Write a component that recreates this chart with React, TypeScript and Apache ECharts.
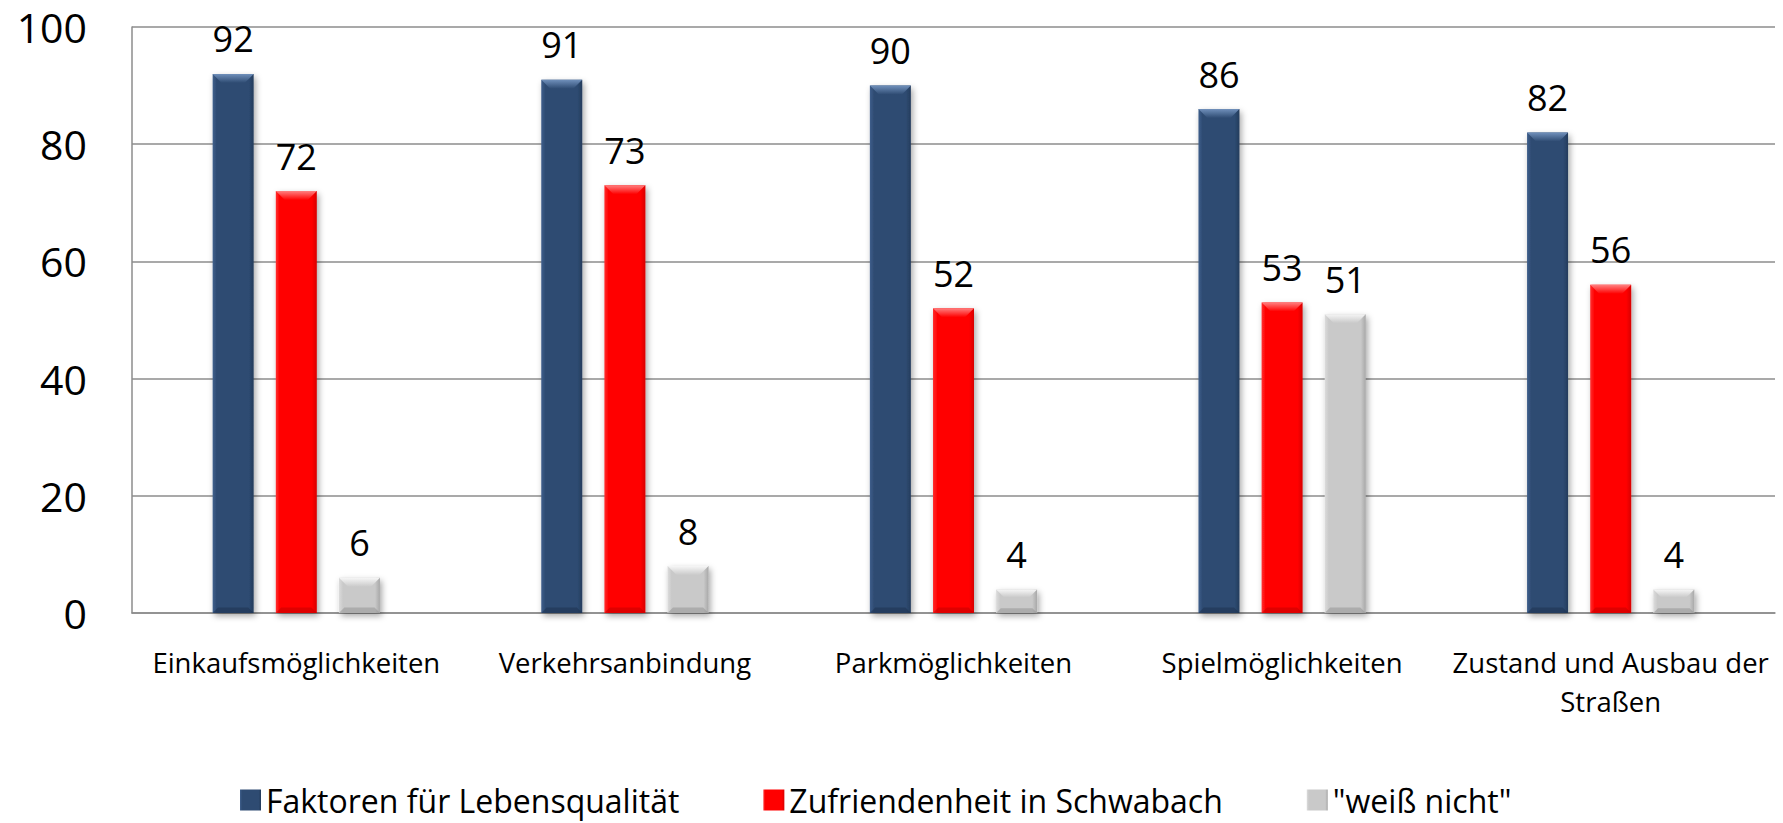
import React, { useEffect, useRef } from "react";
import * as echarts from "echarts";

const categories = [
  "Einkaufsmöglichkeiten",
  "Verkehrsanbindung",
  "Parkmöglichkeiten",
  "Spielmöglichkeiten",
  "Zustand und Ausbau der\nStraßen",
];
const seriesNames = [
  "Faktoren für Lebensqualität",
  "Zufriendenheit in Schwabach",
  '"weiß nicht"',
];
const faktoren = [92, 91, 90, 86, 82];
const zufriedenheit = [72, 73, 52, 53, 56];
const weissNicht = [6, 8, 4, 51, 4];
const allValues = [faktoren, zufriedenheit, weissNicht];

const baseColors = ["#2e4b72", "#ff0000", "#c9c9c9"];
const lightEdge = ["#3f5f8c", "#ff3030", "#dcdcdc"];
const darkEdge = ["#243c5c", "#d80000", "#a8a8a8"];
const topColors = ["#7090bb", "#ff8080", "#f6f6f6"];
const bottomColors = ["#1c304c", "#c00000", "#8f8f8f"];

const BAR_W = 41;
const BAR_GAP = 0.54;

export default function App() {
  const ref = useRef<HTMLDivElement>(null);
  useEffect(() => {
    if (!ref.current) return;
    const chart = echarts.init(ref.current, null, { renderer: "svg" });
    const barSeries = allValues.map((vals, s) => ({
      name: seriesNames[s],
      type: "bar",
      data: vals,
      barWidth: BAR_W,
      barGap: BAR_GAP * 100 + "%",
      itemStyle: {
        color: new echarts.graphic.LinearGradient(0, 0, 1, 0, [
          { offset: 0, color: lightEdge[s] },
          { offset: 0.1, color: baseColors[s] },
          { offset: 0.88, color: baseColors[s] },
          { offset: 1, color: darkEdge[s] },
        ]),
        shadowColor: "rgba(0,0,0,0.35)",
        shadowBlur: 6,
        shadowOffsetX: 2,
        shadowOffsetY: 3,
      },
      label: {
        show: true,
        position: "top",
        distance: 17,
        fontFamily: "Open Sans",
        fontSize: 36,
        color: "#000",
      },
      z: 2,
    }));
    const bevelData: number[][] = [];
    allValues.forEach((vals, s) =>
      vals.forEach((v, i) => bevelData.push([i, v, s]))
    );
    const option = {
      animation: false,
      backgroundColor: "#ffffff",
      grid: { left: 132, right: 8, top: 27, bottom: 210, containLabel: false },
      legend: {
        data: seriesNames,
        left: 235,
        top: 779,
        itemWidth: 21,
        itemHeight: 21,
        itemGap: 84,
        icon: "rect",
        textStyle: {
          fontFamily: "Open Sans",
          fontSize: 32,
          color: "#000",
        },
      },
      xAxis: {
        type: "category",
        data: categories,
        axisLine: { show: true, lineStyle: { color: "#8c8c8c", width: 1.5 } },
        axisTick: { show: false },
        axisLabel: {
          interval: 0,
          margin: 30,
          fontFamily: "Open Sans",
          fontSize: 27.5,
          lineHeight: 39,
          color: "#000",
          align: "center",
        },
      },
      yAxis: {
        type: "value",
        min: 0,
        max: 100,
        interval: 20,
        axisLine: { show: true, lineStyle: { color: "#8c8c8c", width: 1.5 } },
        axisTick: { show: false },
        splitLine: { show: true, lineStyle: { color: "#8c8c8c", width: 1.5 } },
        axisLabel: {
          margin: 45,
          fontFamily: "Open Sans",
          fontSize: 41,
          color: "#000",
        },
      },
      series: [
        ...barSeries,
        {
          type: "custom",
          name: "bevel",
          silent: true,
          z: 3,
          data: bevelData,
          encode: { x: 0, y: 1 },
          renderItem: (params: any, api: any) => {
            const i = api.value(0);
            const v = api.value(1);
            const s = api.value(2);
            const top = api.coord([i, v]);
            const base = api.coord([i, 0]);
            const step = BAR_W * (1 + BAR_GAP);
            const cx = top[0] + (s - 1) * step;
            const x0 = cx - BAR_W / 2;
            const x1 = cx + BAR_W / 2;
            const h = base[1] - top[1];
            const b = Math.min(9, h / 3);
            return {
              type: "group",
              children: [
                {
                  type: "polygon",
                  shape: {
                    points: [
                      [x0, top[1]],
                      [x1, top[1]],
                      [x1 - b, top[1] + b],
                      [x0 + b, top[1] + b],
                    ],
                  },
                  style: {
                    fill: new echarts.graphic.LinearGradient(0, 0, 0, 1, [
                      { offset: 0, color: topColors[s] },
                      { offset: 1, color: baseColors[s] },
                    ]),
                  },
                },
                {
                  type: "polygon",
                  shape: {
                    points: [
                      [x0, base[1]],
                      [x1, base[1]],
                      [x1 - b * 0.6, base[1] - b * 0.6],
                      [x0 + b * 0.6, base[1] - b * 0.6],
                    ],
                  },
                  style: { fill: bottomColors[s], opacity: 0.5 },
                },
              ],
            };
          },
        },
      ],
    };
    chart.setOption(option as any);
    return () => chart.dispose();
  }, []);
  return (
    <div
      ref={ref}
      style={{ position: "absolute", left: 0, top: 0, width: 1783, height: 823 }}
    />
  );
}
